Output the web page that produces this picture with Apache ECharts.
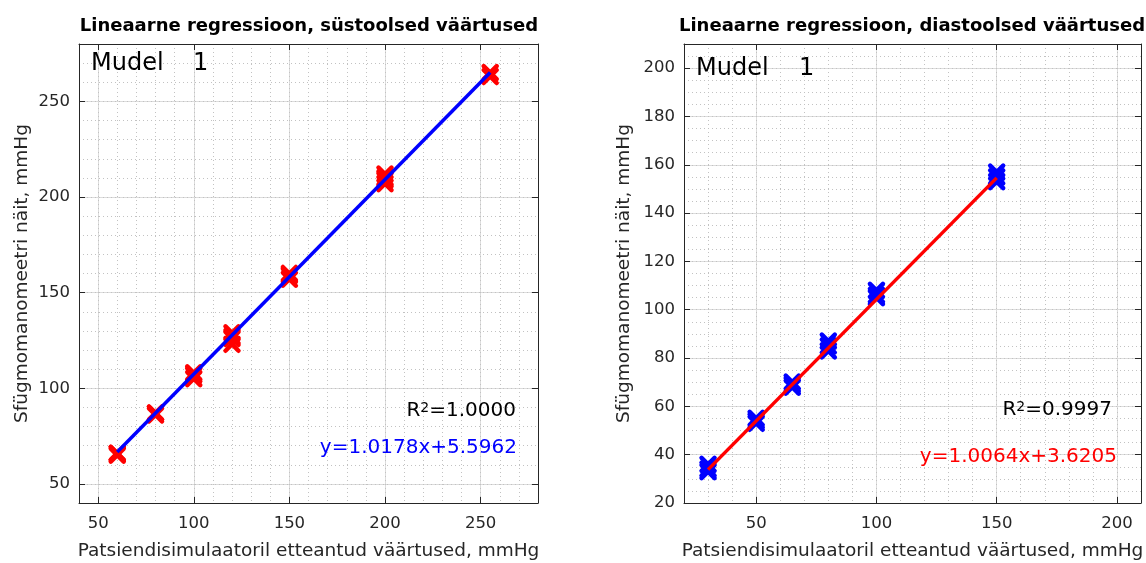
<!DOCTYPE html>
<html>
<head>
<meta charset="utf-8">
<script src="https://cdn.jsdelivr.net/npm/echarts@6/dist/echarts.min.js"></script>
<style>
  html, body { margin: 0; padding: 0; background: #ffffff; }
  #chart { width: 1146px; height: 563px; }
</style>
</head>
<body>
<div id="chart"></div>
<script>
// Systolic: simulator set points and the sphygmomanometer readings taken at each
const sysSet = [60, 80, 100, 120, 150, 200, 255];
const sysRead = [
  [65, 66, 66],
  [86, 87, 87],
  [105, 107, 108],
  [123, 126, 127, 129],
  [157, 159, 160],
  [207, 209, 210, 212],
  [263, 265]
];
const sysFit = [1.0178, 5.5962];   // slope, intercept
const sysR2 = '1.0000';

// Diastolic
const diaSet = [30, 50, 65, 80, 100, 150];
const diaRead = [
  [33, 34, 36],
  [53, 54, 55],
  [68, 69, 70],
  [83, 85, 87],
  [105, 106, 108],
  [153, 155, 157]
];
const diaFit = [1.0064, 3.6205];
const diaR2 = '0.9997';

// Axis ranges and tick labels
const sysRange = [40, 280];
const sysTicksX = [50, 100, 150, 200, 250];
const sysTicksY = [50, 100, 150, 200, 250];
const diaRange = [20, 210];
const diaTicksX = [50, 100, 150, 200];
const diaTicksY = [20, 40, 60, 80, 100, 120, 140, 160, 180, 200];

const titles = ['Lineaarne regressioon, süstoolsed väärtused', 'Lineaarne regressioon, diastoolsed väärtused'];
const xName = 'Patsiendisimulaatoril etteantud väärtused, mmHg';
const yName = 'Sfügmomanomeetri näit, mmHg';
const modelLabel = ['Mudel', '1'];

const FONT = 'DejaVu Sans';
const AX = '#262626';

function points(setVals, reads) {
  const out = [];
  setVals.forEach((x, i) => reads[i].forEach(y => out.push([x, y])));
  return out;
}
function fitLine(setVals, fit) {
  const x0 = setVals[0], x1 = setVals[setVals.length - 1];
  return [[x0, fit[0] * x0 + fit[1]], [x1, fit[0] * x1 + fit[1]]];
}
function eqText(fit) {
  return 'y=' + fit[0].toFixed(4) + 'x+' + fit[1].toFixed(4);
}

// Three axes per side: main (labels, major grid), minor dotted grid, ticks on the opposite edge
function axesFor(dim, grid, range, ticks, minorStep, nameGap) {
  const main = dim === 'x' ? 'bottom' : 'left';
  const other = dim === 'x' ? 'top' : 'right';
  return [
    {
      type: 'value', gridIndex: grid, position: main, min: range[0], max: range[1],
      axisLine: { show: true, onZero: false, lineStyle: { color: AX, width: 1 } },
      axisTick: { show: true, inside: true, length: 6, customValues: ticks, lineStyle: { color: AX } },
      axisLabel: { customValues: ticks, margin: dim === 'x' ? 12 : 9, color: AX, fontSize: 16.5, fontFamily: FONT },
      splitLine: { show: true, lineStyle: { color: '#dcdcdc', width: 1 } },
      name: dim === 'x' ? xName : yName,
      nameLocation: 'middle', nameGap: nameGap,
      nameTextStyle: { color: AX, fontSize: 18.5, fontFamily: FONT }
    },
    {
      type: 'value', gridIndex: grid, position: other, min: range[0], max: range[1], interval: minorStep,
      axisLine: { show: true, onZero: false, lineStyle: { color: AX, width: 1 } },
      axisTick: { show: false }, axisLabel: { show: false },
      splitLine: { show: true, lineStyle: { color: '#c2c2c2', width: 1, type: [1, 3] } }
    },
    {
      type: 'value', gridIndex: grid, position: other, offset: 0, min: range[0], max: range[1],
      axisLine: { show: false },
      axisTick: { show: true, inside: true, length: 6, customValues: ticks, lineStyle: { color: AX } },
      axisLabel: { show: false }, splitLine: { show: false }
    }
  ];
}

const xAxes = [].concat(
  axesFor('x', 0, sysRange, sysTicksX, 10, 39),
  axesFor('x', 1, diaRange, diaTicksX, 10, 39)
);
const yAxes = [].concat(
  axesFor('y', 0, sysRange, sysTicksY, 10, 47),
  axesFor('y', 1, diaRange, diaTicksY, 5, 50)
);

const xMark = 'path://M0,0L10,10M10,0L0,10';
function scatter(idx, data, color) {
  return {
    type: 'scatter', xAxisIndex: idx, yAxisIndex: idx, data: data,
    symbol: xMark, symbolSize: 13, z: 3,
    itemStyle: { color: 'rgba(0,0,0,0)', borderColor: color, borderWidth: 4.5, borderCap: 'round', opacity: 1 }
  };
}
function line(idx, data, color) {
  return {
    type: 'line', xAxisIndex: idx, yAxisIndex: idx, data: data,
    showSymbol: false, symbol: 'none', z: 4,
    lineStyle: { color: color, width: 3.5 }
  };
}

function r2Text(x, y, val) {
  return {
    type: 'text', z: 100,
    style: {
      x: x, y: y, align: 'right', verticalAlign: 'middle',
      text: '{a|R}{s|2}{a|=' + val + '}',
      rich: {
        a: { fontSize: 20, fontFamily: FONT, fill: '#000', lineHeight: 20, verticalAlign: 'bottom' },
        s: { fontSize: 14, fontFamily: FONT, fill: '#000', lineHeight: 14, verticalAlign: 'top', padding: [0, 0, 14, 0] }
      }
    }
  };
}
function plainText(x, y, text, opts) {
  return {
    type: 'text', z: 100,
    style: Object.assign({ x: x, y: y, text: text, align: 'left', verticalAlign: 'middle',
      fontFamily: FONT, fontSize: 20, fill: '#000' }, opts || {})
  };
}

const chart = echarts.init(document.getElementById('chart'), null, { renderer: 'canvas' });
chart.setOption({
  animation: false,
  backgroundColor: '#ffffff',
  grid: [
    { left: 79, top: 44, width: 459, height: 459, containLabel: false, outerBoundsMode: 'none' },
    { left: 684, top: 44, width: 457, height: 459, containLabel: false, outerBoundsMode: 'none' }
  ],
  xAxis: xAxes,
  yAxis: yAxes,
  series: [
    scatter(0, points(sysSet, sysRead), '#ff0000'),
    line(0, fitLine(sysSet, sysFit), '#0000ff'),
    scatter(3, points(diaSet, diaRead), '#0000ff'),
    line(3, fitLine(diaSet, diaFit), '#ff0000')
  ],
  graphic: [
    plainText(309, 26, titles[0], { align: 'center', fontWeight: 'bold', fontSize: 18 }),
    plainText(912, 26, titles[1], { align: 'center', fontWeight: 'bold', fontSize: 18 }),
    plainText(91, 64, modelLabel[0], { fontSize: 24 }),
    plainText(193, 64, modelLabel[1], { fontSize: 24 }),
    plainText(696, 69, modelLabel[0], { fontSize: 24 }),
    plainText(799, 69, modelLabel[1], { fontSize: 24 }),
    r2Text(516, 411, sysR2),
    plainText(517, 448, eqText(sysFit), { align: 'right', fill: '#0000ff' }),
    r2Text(1112, 410, diaR2),
    plainText(1117, 457, eqText(diaFit), { align: 'right', fill: '#ff0000' })
  ]
});
</script>
</body>
</html>
